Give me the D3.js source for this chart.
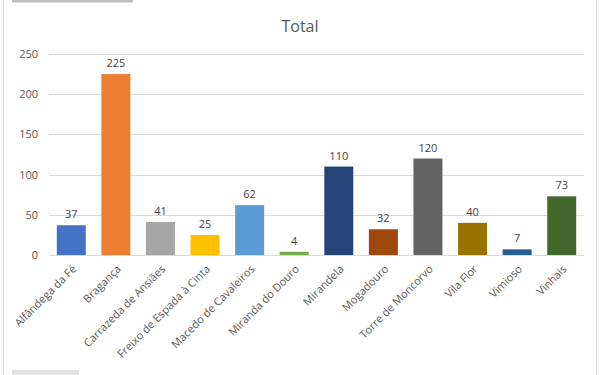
<!DOCTYPE html>
<html>
<head>
<meta charset="utf-8">
<script src="https://cdn.jsdelivr.net/npm/d3@7"></script>
<style>
  body { margin: 0; background: #fff; }
  text { font-family: "Open Sans", "Noto Sans", sans-serif; }
</style>
</head>
<body>
<div id="chart"></div>
<script>
// ---- data
var categories = ["Alfândega da Fé", "Bragança", "Carrazeda de Ansiães", "Freixo de Espada à Cinta",
  "Macedo de Cavaleiros", "Miranda do Douro", "Mirandela", "Mogadouro", "Torre de Moncorvo",
  "Vila Flor", "Vimioso", "Vinhais"];
var totals = [37, 225, 41, 25, 62, 4, 110, 32, 120, 40, 7, 73];
var yTicks = [0, 50, 100, 150, 200, 250];
var colors = ["#4472C4", "#ED7D31", "#A5A5A5", "#FFC000", "#5B9BD5", "#70AD47",
  "#264478", "#9E480E", "#636363", "#997300", "#255E91", "#43682B"];

var W = 600, H = 375;
var margin = {top: 54, right: 16, bottom: 120, left: 49};
var width = W - margin.left - margin.right;
var height = H - margin.top - margin.bottom;
var font = '"Open Sans", "Noto Sans", sans-serif';

var svg = d3.select("#chart").append("svg")
    .attr("width", W)
    .attr("height", H);

// frame bits from the screenshot
svg.append("line").attr("x1", 3.5).attr("x2", 3.5).attr("y1", 0).attr("y2", H)
    .attr("stroke", "#d9d9d9");
svg.append("line").attr("x1", 596.5).attr("x2", 596.5).attr("y1", 0).attr("y2", H)
    .attr("stroke", "#d9d9d9");
svg.append("rect").attr("x", 12).attr("y", 0).attr("width", 121).attr("height", 2.5)
    .attr("fill", "#bfbfbf");
svg.append("rect").attr("x", 12).attr("y", 370).attr("width", 67).attr("height", 5)
    .attr("fill", "#e3e3e3");

// title
svg.append("text")
    .attr("x", 300).attr("y", 32)
    .attr("text-anchor", "middle")
    .attr("font-size", "16px")
    .attr("fill", "#595959")
    .text("Total");

var g = svg.append("g")
    .attr("transform", "translate(" + margin.left + "," + margin.top + ")");

var x = d3.scaleBand().domain(categories).range([0, width]).paddingInner(0.35).paddingOuter(0.175);
var y = d3.scaleLinear().domain([0, 250]).range([height, 0]);

// gridlines
g.selectAll(".grid").data(yTicks).enter().append("line")
    .attr("x1", 0).attr("x2", width)
    .attr("y1", d => Math.round(y(d)) + 0.5).attr("y2", d => Math.round(y(d)) + 0.5)
    .attr("stroke", "#d9d9d9");

// y labels
var yAxis = g.append("g").call(d3.axisLeft(y).tickValues(yTicks).tickSize(0).tickPadding(11));
yAxis.select(".domain").remove();
yAxis.selectAll("text").attr("font-size", "11px").attr("fill", "#595959")
    .style("font-family", font);

// bars
g.selectAll(".bar").data(totals).enter().append("rect")
    .attr("x", (d, i) => x(categories[i]))
    .attr("width", x.bandwidth())
    .attr("y", d => y(d))
    .attr("height", d => height - y(d))
    .attr("fill", (d, i) => colors[i]);

// value labels
g.selectAll(".lbl").data(totals).enter().append("text")
    .attr("x", (d, i) => x(categories[i]) + x.bandwidth() / 2)
    .attr("y", d => y(d) - 7)
    .attr("text-anchor", "middle")
    .attr("font-size", "11px")
    .attr("fill", "#404040")
    .text(d => d);

// x axis labels
var xAxis = g.append("g").attr("transform", "translate(0," + height + ")")
    .call(d3.axisBottom(x).tickSize(0).tickPadding(0));
xAxis.select(".domain").remove();
xAxis.selectAll("text")
    .attr("font-size", "11px").attr("fill", "#595959")
    .style("font-family", font)
    .attr("text-anchor", "end")
    .attr("dy", "0.35em")
    .attr("transform", "translate(3,12) rotate(-45)");
</script>
</body>
</html>
